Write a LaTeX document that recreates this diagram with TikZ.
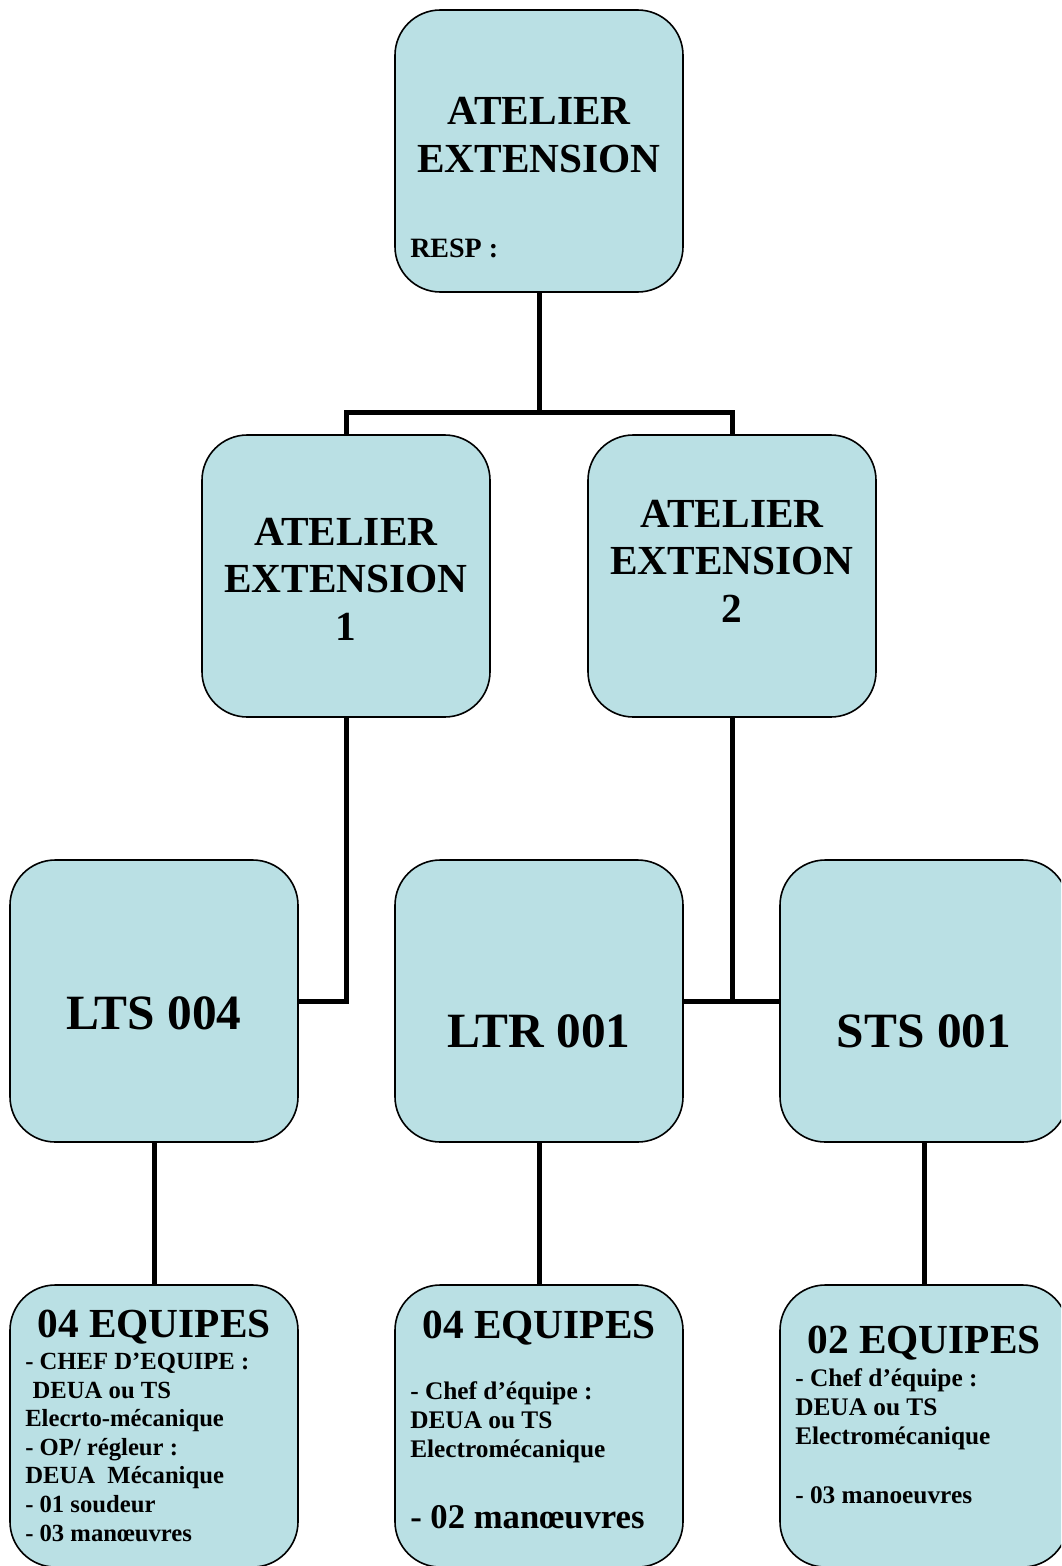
\documentclass[tikz,border=0pt]{standalone}
\usepackage{fontspec}
\setmainfont{Liberation Serif}
\definecolor{boxcyan}{RGB}{186,224,228}

\begin{document}
\begin{tikzpicture}[x=0.75pt,y=-0.75pt,
    box/.style={draw=black, line width=1.2pt, fill=boxcyan, rounded corners=34pt,
        minimum width=216pt, minimum height=211.5pt, inner sep=0pt},
    link/.style={line width=3.75pt},
    head/.style={font=\fontsize{31}{35.6}\selectfont\bfseries, align=center, inner sep=0pt, anchor=base},
    code/.style={font=\fontsize{37}{40}\selectfont\bfseries, inner sep=0pt, anchor=base},
    team/.style={font=\fontsize{31}{36}\selectfont\bfseries, inner sep=0pt, anchor=base},
    duty/.style={font=\fontsize{18.5}{21.4}\selectfont\bfseries, align=left, inner sep=0pt, anchor=base west}]
    \useasboundingbox (0,0) rectangle (1061,1566);
    \clip (0,0) rectangle (1061,1566);

    \node[box] (top) at (539,151) {};
    \node[box] (ext1) at (346,576) {};
    \node[box] (ext2) at (732,576) {};
    \node[box] (lts) at (154,1001) {};
    \node[box] (ltr) at (539,1001) {};
    \node[box] (sts) at (924,1001) {};
    \node[box] (eq1) at (154,1426) {};
    \node[box] (eq2) at (539,1426) {};
    \node[box] (eq3) at (924,1426) {};

    \coordinate (split) at (539,412);
    \draw[link] (top.south) -- (split);
    \draw[link] (ext1.north) |- (split) -| (ext2.north);
    \draw[link] (ext1.south) |- (lts.east);
    \draw[link] (ext2.south) -- (ext2.south |- ltr.east);
    \draw[link] (ltr.east) -- (sts.west);
    \foreach \a/\b in {lts/eq1,ltr/eq2,sts/eq3}{
        \draw[link] (\a.south) -- (\b.north);
    }

    \node[head] (topname) at (539,172) {ATELIER\\EXTENSION};
    \node[duty, font=\fontsize{21}{24}\selectfont\bfseries] (resp) at (410,257) {RESP :};
    \node[head] (ext1name) at (346,640) {ATELIER\\EXTENSION\\1};
    \node[head] (ext2name) at (732,622) {ATELIER\\EXTENSION\\2};

    \node[code] (ltsname) at (154,1029) {LTS 004};
    \node[code] (ltrname) at (539,1047) {LTR 001};
    \node[code] (stsname) at (924,1047) {STS 001};

    \node[team] (eq1name) at (154,1337) {04 EQUIPES};
    \node[duty] (eq1duty) at (25,1541) {- CHEF D’EQUIPE :\\\hspace*{0.3em}DEUA ou TS\\Elecrto-mécanique\\- OP/ régleur :\\DEUA\ \ Mécanique\\- 01 soudeur\\- 03 manœuvres};

    \node[team] (eq2name) at (539,1338) {04 EQUIPES};
    \node[duty, font=\fontsize{19}{21.6}\selectfont\bfseries] (eq2duty) at (410,1457) {- Chef d’équipe :\\DEUA ou TS\\Electromécanique};
    \node[duty, font=\fontsize{26}{28}\selectfont\bfseries] (eq2man) at (410,1528) {- 02 manœuvres};

    \node[team] (eq3name) at (924,1353) {02 EQUIPES};
    \node[duty, font=\fontsize{19}{21.6}\selectfont\bfseries] (eq3duty) at (795,1444) {- Chef d’équipe :\\DEUA ou TS\\Electromécanique};
    \node[duty, font=\fontsize{19}{21.6}\selectfont\bfseries] (eq3man) at (795,1503) {- 03 manoeuvres};
\end{tikzpicture}
\end{document}
